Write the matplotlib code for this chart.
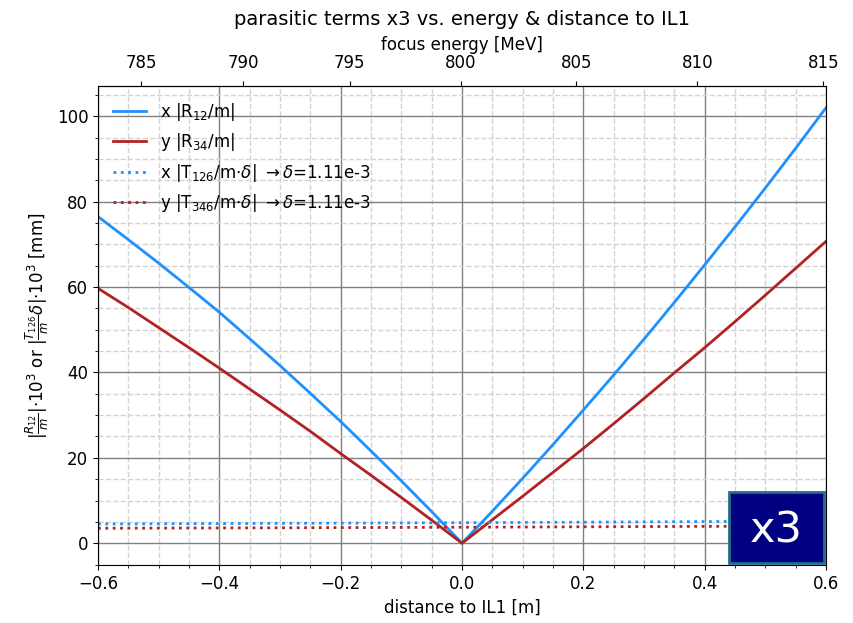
import numpy as np
import matplotlib
matplotlib.use("Agg")
from matplotlib import pyplot as plt
from matplotlib.patches import Rectangle
from matplotlib.ticker import MultipleLocator

# distance to IL1 [m]
dist = [-0.6, -0.55, -0.5, -0.45, -0.4, -0.35, -0.3, -0.25, -0.2, -0.15, -0.1, -0.05, 0.0,
        0.05, 0.1, 0.15, 0.2, 0.25, 0.3, 0.35, 0.4, 0.45, 0.5, 0.55, 0.6]
# |R12/m|*1e3 and |R34/m|*1e3
r12 = [76.5, 71.1, 65.6, 59.9, 54.1, 47.9, 41.6, 35.1, 28.5, 21.6, 14.6, 7.4, 0.0,
       7.5, 15.2, 23.1, 31.2, 39.4, 47.8, 56.4, 65.2, 74.1, 83.2, 92.5, 102.0]
r34 = [59.7, 55.2, 50.5, 45.8, 41.0, 36.1, 31.2, 26.2, 21.0, 15.9, 10.7, 5.4, 0.0,
       5.5, 11.0, 16.6, 22.2, 28.0, 33.9, 39.9, 45.8, 51.9, 58.1, 64.4, 70.7]
# |T126/m*delta|*1e3 and |T346/m*delta|*1e3
dist_t = [-0.6, -0.3, 0.0, 0.3, 0.6]
t126 = [4.5, 4.65, 4.8, 5.0, 5.2]
t346 = [3.5, 3.62, 3.75, 3.9, 4.05]

# focus energy [MeV] against distance to IL1 [m]
energy = [785, 790, 795, 800, 805, 810, 815]
energy_dist = [-0.528, -0.361, -0.186, 0.0, 0.188, 0.387, 0.596]

p_fwd = np.polyfit(energy_dist, energy, 3)
p_inv = np.polyfit(energy, energy_dist, 3)

fig = plt.figure(figsize=(8.54, 6.23), dpi=100)
ax = fig.add_axes([0.1148, 0.0931, 0.8524, 0.7689])

ax.plot(dist, r12, color="#1e90ff", linewidth=2, label=r"x |R$_{12}$/m|")
ax.plot(dist, r34, color="#b22222", linewidth=2, label=r"y |R$_{34}$/m|")
ax.plot(dist_t, t126, color="#1e90ff", linewidth=2, linestyle=":",
        label=r"x |T$_{126}$/m$\cdot\delta$| $\rightarrow\delta$=1.11e-3")
ax.plot(dist_t, t346, color="#b22222", linewidth=2, linestyle=":",
        label=r"y |T$_{346}$/m$\cdot\delta$| $\rightarrow\delta$=1.11e-3")

ax.set_xlim(-0.6, 0.6)
ax.set_ylim(-5.1, 107.1)
ax.xaxis.set_major_locator(MultipleLocator(0.2))
ax.xaxis.set_minor_locator(MultipleLocator(0.05))
ax.yaxis.set_major_locator(MultipleLocator(20))
ax.yaxis.set_minor_locator(MultipleLocator(5))
ax.grid(which="major", color="grey", linewidth=1)
ax.grid(which="minor", color="lightgrey", linestyle="--", linewidth=1)
ax.set_axisbelow(True)
ax.tick_params(labelsize=12)

ax.set_xlabel("distance to IL1 [m]", fontsize=12)
ax.set_ylabel(r"$|\frac{R_{12}}{m}|{\cdot}10^3$ or $|\frac{T_{126}}{m}\delta|{\cdot}10^3$ [mm]", fontsize=12)

# top axis: focus energy
sec = ax.secondary_xaxis("top", functions=(lambda x: np.polyval(p_fwd, x),
                                           lambda e: np.polyval(p_inv, e)))
sec.set_xticks(energy)
sec.tick_params(labelsize=12, pad=6.5)
sec.set_xlabel("focus energy [MeV]", fontsize=12, labelpad=3)

ax.set_title("parasitic terms x3 vs. energy & distance to IL1", fontsize=14, pad=8)

ax.legend(loc="upper left", frameon=False, fontsize=12)

# "x3" badge
ax.add_patch(Rectangle((0.8668, 0.0048), 0.1305, 0.1476, transform=ax.transAxes,
                       facecolor="#000080", edgecolor="#1f6f8b", linewidth=2, zorder=5))
ax.text(0.932, 0.0722, "x3", transform=ax.transAxes, ha="center", va="center",
        fontsize=31, color="white", zorder=6)

plt.savefig("out.png", dpi=100)
